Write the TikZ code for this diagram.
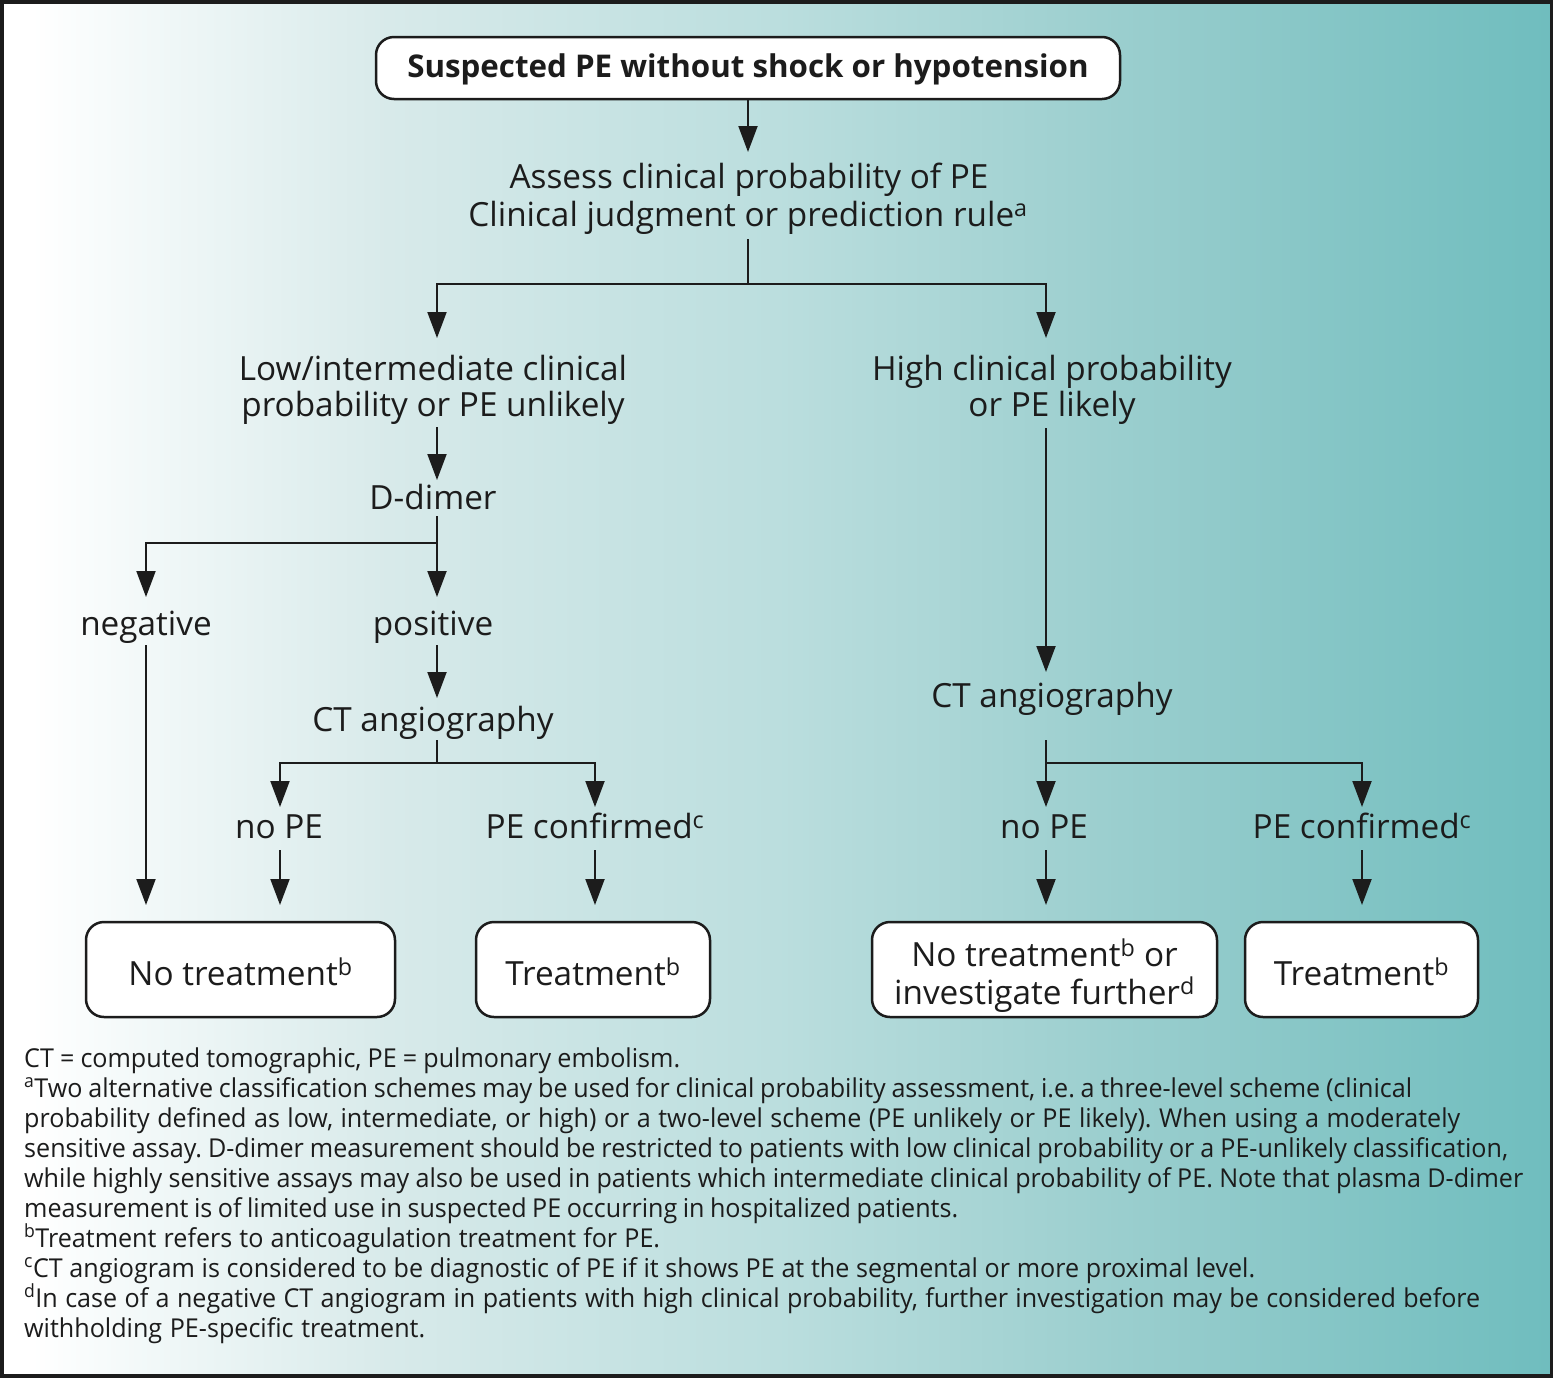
\documentclass[tikz,border=0pt]{standalone}
\usepackage{fontspec}
\setmainfont{Open Sans}
\newfontfamily\fnfont[FakeStretch=0.966]{Open Sans}
\usetikzlibrary{arrows.meta}
\frenchspacing
\definecolor{ink}{HTML}{1C1C1C}
\definecolor{g0}{HTML}{FFFFFF}
\definecolor{g1}{HTML}{F1F8F8}
\definecolor{g2}{HTML}{D8EAEA}
\definecolor{g3}{HTML}{BBDEDE}
\definecolor{g4}{HTML}{96CCCC}
\definecolor{g5}{HTML}{6FBDBE}
\pgfdeclarehorizontalshading{bgshade}{100bp}{color(0bp)=(g0); color(25bp)=(g0); color(26bp)=(g0); color(30bp)=(g1); color(37.5bp)=(g2); color(50bp)=(g3); color(62.5bp)=(g4); color(75bp)=(g5); color(100bp)=(g5)}
\newcommand{\fnline}[2]{\makebox[#1pt][s]{#2}}
\tikzset{
  txt/.style={anchor=base, inner sep=0pt, font=\fontsize{33.3}{38}\selectfont, text=ink},
  fn/.style={anchor=base west, inner sep=0pt, font=\fnfont\fontsize{26}{30}\selectfont, text=ink},
  box/.style={draw=ink, line width=2.5pt, fill=white, rounded corners=18pt, inner sep=0pt},
  ln/.style={draw=ink, line width=2pt},
  arr/.style={draw=ink, line width=2pt, -{Triangle[length=26pt,width=19pt]}}
}
\begin{document}
\begin{tikzpicture}[x=1pt,y=-1pt]
\useasboundingbox (0,0) rectangle (1553,1377);
\shade[shading=bgshade] (0,0) rectangle (1553,1377);
\draw[ink, line width=7pt] (0,0) rectangle (1553,1377);

% top box
\node[box, minimum width=744pt, minimum height=62pt] (top) at (748,68) {};
\node[txt, font=\bfseries\fontsize{31.3}{36}\selectfont] (toptext) at (748,77) {Suspected PE without shock or hypotension};

% text nodes
\node[txt] (as1) at (749,188) {Assess clinical probability of PE};
\node[txt] (as2) at (748,226) {Clinical judgment or prediction rule\textsuperscript{a}};
\node[txt] (lo1) at (433,380) {Low/intermediate clinical};
\node[txt] (lo2) at (433,416) {probability or PE unlikely};
\node[txt] (hi1) at (1052,380) {High clinical probability};
\node[txt] (hi2) at (1052,416) {or PE likely};
\node[txt] (dd) at (433,509) {D-dimer};
\node[txt] (neg) at (146,635) {negative};
\node[txt] (pos) at (433,635) {positive};
\node[txt] (ctl) at (433,731) {CT angiography};
\node[txt] (ctr) at (1052,707) {CT angiography};
\node[txt] (nopel) at (279,838) {no PE};
\node[txt] (pecl) at (595,838) {PE confirmed\textsuperscript{c}};
\node[txt] (nocer) at (1044,838) {no PE};
\node[txt] (pecr) at (1362,838) {PE confirmed\textsuperscript{c}};

% boxes
\node[box, minimum width=309pt, minimum height=95pt] (b1) at (240.5,969.5) {};
\node[box, minimum width=234pt, minimum height=95pt] (b2) at (593,969.5) {};
\node[box, minimum width=345pt, minimum height=95pt] (b3) at (1044.5,969.5) {};
\node[box, minimum width=233pt, minimum height=95pt] (b4) at (1361.5,969.5) {};
\node[txt] (b1t) at (240.5,985) {No treatment\textsuperscript{b}};
\node[txt] (b2t) at (593,985) {Treatment\textsuperscript{b}};
\node[txt] (b3t1) at (1044.5,966) {No treatment\textsuperscript{b} or};
\node[txt] (b3t2) at (1044.5,1004) {investigate further\textsuperscript{d}};
\node[txt] (b4t) at (1361.5,985) {Treatment\textsuperscript{b}};

% coordinates
\coordinate (t0) at (748,152);
\coordinate (s1) at (748,239);
\coordinate (j1) at (748,284);
\coordinate (tlo) at (437,338);
\coordinate (thi) at (1046,338);
\coordinate (s2) at (437,427);
\coordinate (tdd) at (437,480);
\coordinate (s3) at (437,516);
\coordinate (j3) at (437,543);
\coordinate (tneg) at (146,597);
\coordinate (tpos) at (437,597);
\coordinate (sneg) at (146,645);
\coordinate (tb1a) at (146,905);
\coordinate (spos) at (437,645);
\coordinate (tctl) at (437,698);
\coordinate (s5) at (437,740);
\coordinate (j5) at (437,763);
\coordinate (tnol) at (280,807);
\coordinate (tpcl) at (595,807);
\coordinate (snol) at (280,850);
\coordinate (tb1b) at (280,905);
\coordinate (spcl) at (595,850);
\coordinate (tb2) at (595,905);
\coordinate (shi) at (1046,428);
\coordinate (tctr) at (1046,672);
\coordinate (s6) at (1046,740);
\coordinate (j6) at (1046,763);
\coordinate (tnor) at (1046,807);
\coordinate (tpcr) at (1362,807);
\coordinate (snor) at (1046,850);
\coordinate (tb3) at (1046,905);
\coordinate (spcr) at (1362,850);
\coordinate (tb4) at (1362,905);

% connectors
\draw[arr] (top.south) -- (t0);
\draw[ln] (s1) -- (j1);
\draw[arr] (j1) -| (tlo);
\draw[arr] (j1) -| (thi);
\draw[arr] (s2) -- (tdd);
\draw[ln] (s3) -- (j3);
\draw[arr] (j3) -| (tneg);
\draw[arr] (j3) -- (tpos);
\draw[arr] (sneg) -- (tb1a);
\draw[arr] (spos) -- (tctl);
\draw[ln] (s5) -- (j5);
\draw[arr] (j5) -| (tnol);
\draw[arr] (j5) -| (tpcl);
\draw[arr] (snol) -- (tb1b);
\draw[arr] (spcl) -- (tb2);
\draw[arr] (shi) -- (tctr);
\draw[arr] (s6) -- (tnor);
\draw[arr] (j6) -| (tpcr);
\draw[arr] (snor) -- (tb3);
\draw[arr] (spcr) -- (tb4);

% footnotes
\node[fn] (f1) at (24,1067) {\fnline{656}{CT = computed tomographic, PE = pulmonary embolism.}};
\node[fn] (f2) at (24,1097) {\fnline{1388}{\textsuperscript{a}Two alternative classification schemes may be used for clinical probability assessment, i.e. a three-level scheme (clinical}};
\node[fn] (f3) at (24,1127) {\fnline{1436}{probability defined as low, intermediate, or high) or a two-level scheme (PE unlikely or PE likely). When using a moderately}};
\node[fn] (f4) at (24,1157) {\fnline{1484}{sensitive assay. D-dimer measurement should be restricted to patients with low clinical probability or a PE-unlikely classification,}};
\node[fn] (f5) at (24,1187) {\fnline{1499}{while highly sensitive assays may also be used in patients which intermediate clinical probability of PE. Note that plasma D-dimer}};
\node[fn] (f6) at (24,1217) {\fnline{934}{measurement is of limited use in suspected PE occurring in hospitalized patients.}};
\node[fn] (f7) at (24,1247) {\fnline{636}{\textsuperscript{b}Treatment refers to anticoagulation treatment for PE.}};
\node[fn] (f8) at (24,1277) {\fnline{1231}{\textsuperscript{c}CT angiogram is considered to be diagnostic of PE if it shows PE at the segmental or more proximal level.}};
\node[fn] (f9) at (24,1307) {\fnline{1456}{\textsuperscript{d}In case of a negative CT angiogram in patients with high clinical probability, further investigation may be considered before}};
\node[fn] (f10) at (24,1337) {\fnline{401}{withholding PE-specific treatment.}};
\end{tikzpicture}
\end{document}
